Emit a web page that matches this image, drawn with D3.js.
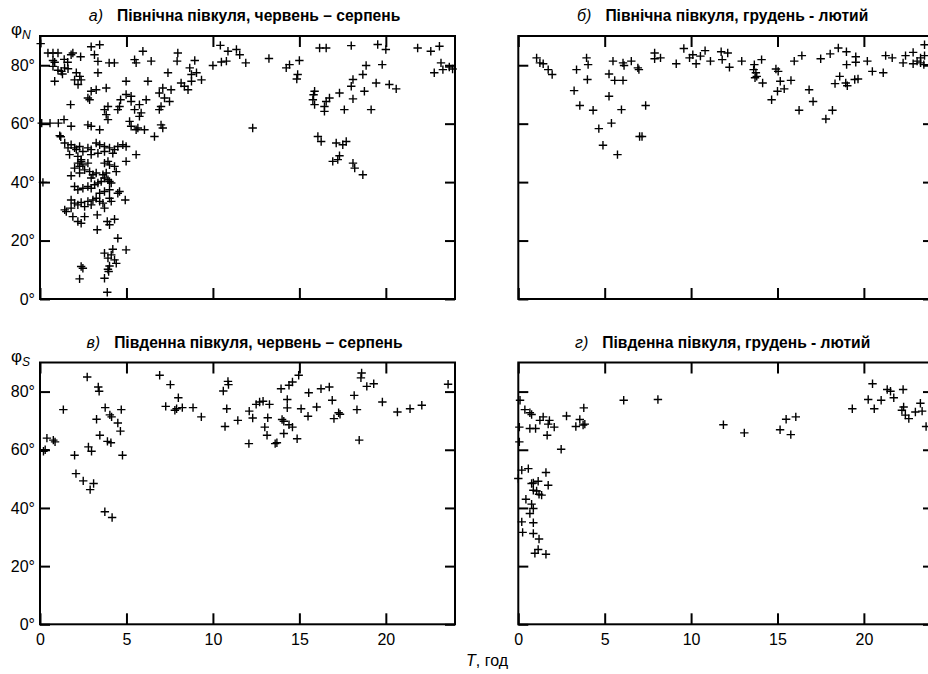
<!DOCTYPE html>
<html>
<head>
<meta charset="utf-8">
<script src="https://cdn.jsdelivr.net/npm/d3@7"></script>
<style>
  body { margin: 0; background: #fff; }
  svg { display: block; font-family: 'Liberation Sans', Arial, sans-serif; }
</style>
</head>
<body>
<svg id="chart" width="928" height="674"></svg>
<script>
// Т (год) та широта φ (градуси) для кожного набору
const northSummer = [
  [0.04,87.4],[0.46,84.2],[0.75,84.2],[1.04,84.2],[0.75,81.6],[0.85,81],[1.4,82],[1.6,81],[1.8,83.6],[1.9,84.2],
  [2.35,82.9],[2.96,86.3],[3.45,87],[3.15,83.6],[3.35,81.3],[4.0,80.8],[4.3,80.8],[0.75,79.6],[1.04,78.3],[1.23,77.9],
  [1.42,79.1],[1.62,78.8],[0.85,74.5],[1.3,77],[2.1,77.4],[2.3,76.2],[2.38,75],[2.0,75],[2.2,73.4],[3.35,77.4],
  [2.96,71.1],[3.25,71.6],[2.77,68.8],[2.87,68.2],[1.77,66.5],[3.83,72.2],[3.73,64.8],[3.93,65.9],[3.83,63.1],[3.93,61.4],
  [4.5,64.8],[4.6,65.9],[4.66,68.2],[4.98,74.5],[5.27,69.4],[5.27,67.6],[4.98,70],[5.18,60.8],[5.27,59.1],[5.47,64.8],
  [5.75,66.5],[5.85,63.7],[5.75,62.5],[6.24,74.5],[6.14,68.2],[5.56,57.9],[5.66,58.5],[6.04,57.9],[6.62,55.6],[5.95,84.8],
  [6.43,81.4],[5.56,80.8],[5.47,81.9],[6.9,70.5],[7.1,72.2],[7.2,68.8],[6.9,64.8],[7.0,65.9],[7.0,59.6],[7.1,58.5],
  [7.4,77.4],[7.58,71.6],[7.49,67.6],[7.97,84.2],[7.93,81.4],[8.16,73.9],[8.35,72.8],
  [0.1,60.2],[0.58,60.2],[1.06,60.2],[1.39,61.4],[1.8,59.1],[2.77,59.6],[2.96,59.1],[3.45,57.9],[1.14,55.9],[1.2,55.5],
  [1.43,53.4],[1.62,51.7],[1.8,52.8],[2.0,51.7],[2.1,51.1],[2.29,52.2],[2.48,50.5],[2.77,51.7],[2.96,51.1],[3.25,53.4],
  [3.45,52.8],[3.73,52.2],[4.02,51.7],[4.31,51.1],[4.5,52.2],[4.79,52.8],[4.98,52.2],[1.71,49.4],[2.19,48.8],[2.38,47.7],
  [2.96,49.4],[3.35,49.9],[3.73,50.5],[4.21,49.9],[5.56,49.4],[3.93,47.1],
  [2.19,46.5],[2.38,47.1],[2.29,45.4],[2.48,45.9],[2.0,44.8],[2.77,46.5],[2.58,44.2],[3.73,46.5],[4.02,45.9],[4.31,45.4],
  [4.98,47.1],[1.8,42.2],[2.29,43.1],[2.87,43.6],[3.06,42.5],[3.25,43.1],[2.96,41.4],[3.64,42.5],[3.73,41.4],[3.93,40.8],
  [3.54,40.2],[3.83,43.1],[4.41,43.6],[4.02,40.2],[4.12,39.7],[0.17,39.9],[2.0,38.5],[2.19,37.4],[2.48,37.9],[2.77,38.5],
  [2.96,37.9],[3.16,39.1],[3.35,39.7],[3.45,36.2],[3.73,36.8],[4.02,37.4],[4.5,36.2],[4.6,36.8],[4.02,34.5],[4.12,33.4],
  [4.93,33.9],[1.8,33.9],[2.0,32.8],[2.19,32.2],[2.38,33.0],[2.58,31.6],[2.77,33.4],[2.96,32.2],[3.06,33.9],[3.25,34.5],
  [3.45,33.4],[3.64,32.8],[3.73,31.1],[1.43,30.5],[1.52,29.9],[1.8,31.1],[1.9,28.2],[2.19,26.5],[2.38,25.9],[2.58,28.2],
  [3.31,28.8],[3.31,23.7],[3.89,26.5],[4.02,25.4],[4.31,27.3],[4.5,20.8],[4.98,16.8],[3.73,15.7],[4.12,15.1],[4.21,17],
  [3.93,14],[4.31,13.4],[4.41,12.2],[4.02,11.3],[3.93,10.2],[3.97,9.4],[3.73,7.1],[2.38,11.1],[2.48,10.5],[2.29,6.9],
  [3.89,2.3],
  [8.95,81.6],[8.66,79.1],[8.76,76.8],[9.05,77.4],[9.34,75],[8.56,71.6],[8.76,74.5],[10.0,79.9],[10.43,86.8],[10.87,84.8],
  [11.36,85.4],[11.55,83.6],[11.9,80.8],[10.49,81.1],[10.78,81.4],[13.24,82.3],[12.3,58.5],[14.24,79.1],[14.43,80.2],[15.0,81.6],
  [14.9,76.8],[14.85,75.3],
  [16.17,85.9],[16.55,85.9],[18.0,86.7],[19.53,87.1],[20.0,85.4],[21.84,85.9],[22.6,84.8],[23.1,86.5],[23.19,80.8],[23.3,78.5],
  [22.8,77.4],[23.67,79.4],[23.86,78.7],[18.86,79.9],[19.79,80.2],[18.1,75.1],[18.67,76.8],[18.0,72.8],[19.44,73.9],[20.2,73.4],
  [20.6,71.9],[18.76,71.1],[18.1,68.5],[17.6,64.8],[19.15,64.8],[17.32,70.5],[16.74,68.8],[16.55,67.6],[16.45,65.9],[16.45,64.2],
  [15.88,71.1],[15.82,69.9],[15.78,68.2],[15.88,66.5],[16.07,55.6],[16.26,53.9],[17.13,53.4],[17.51,52.8],[17.71,53.9],[16.93,47.1],
  [17.22,47.7],[17.32,49],[18.1,46.5],[18.2,44.8],[18.67,42.5]
];

const northWinter = [
  [1.06,82.5],[1.25,80.8],[1.44,80.5],[1.73,78.5],[1.96,76.8],[3.23,71.3],[3.37,78.5],[3.56,66.2],[3.95,82.5],[4.04,80.2],
  [4.0,75.1],[4.33,64.6],[4.66,58.3],[4.9,52.6],[5.25,77],[5.25,69.4],[5.39,60.2],[5.48,81.4],[5.58,74.8],[6.06,74.8],
  [5.74,49.4],[5.97,64.8],[6.06,80.8],[6.12,79.9],[6.54,81.4],[6.92,79.1],[6.98,78.5],[7.02,55.6],[7.16,55.6],[7.37,66.2],
  [7.89,84.2],[7.89,82.2],[8.23,82.5],[9.14,80.5],[9.58,85.7],[9.91,82.5],[10.1,83.6],[10.29,80.5],[10.54,83.1],[10.81,85],
  [11.12,81.4],[11.74,84.6],[12.12,84.2],[11.8,81.9],[12.22,79.3],[12.93,81.4],[13.66,80.2],[13.62,78.5],[13.75,77.4],[13.8,76.2],
  [13.7,75.7],[14.14,73.9],[14.08,81.9],[14.91,78.7],[15.04,77.9],[15.16,74.5],[15.0,71.1],[15.39,71.9],[15.78,74.8],[14.66,68.2],
  [15.97,81.4],[16.41,83.3],[16.25,64.6],[16.83,71.6],[17.06,67.6],[17.5,82.2],[17.8,61.6],[18.05,83.9],[18.18,64.6],[18.33,73.7],
  [18.52,85.9],[18.6,76.2],[18.99,84.6],[19.0,80.2],[18.95,73.9],[19.04,73],[19.53,82.9],[19.53,81],[19.47,75.1],[19.66,75.3],
  [20.2,81.4],[20.49,77.9],[21.12,77.4],[21.26,83.3],[21.64,82.5],[22.27,80.8],[22.41,83.3],[22.85,84.4],[22.85,80.5],[23.08,81.4],
  [23.28,80.8],[23.51,83.3],[23.51,87],[23.28,82.5],[23.47,80.2]
];

const southSummer = [
  [0.2,59.5],[0.3,60],[0.4,64],[0.77,63.3],[0.87,62.7],[1.35,73.8],[2.0,58.1],[2.08,51.8],[2.5,49.3],[2.73,85],
  [2.8,61],[2.98,59.5],[2.9,46.3],[3.1,48.4],[3.27,70.5],[3.37,81.6],[3.42,80.1],[3.46,65],[3.77,74.5],[3.75,38.7],
  [3.9,62.9],[4.1,62.4],[4.04,72],[4.14,71.3],[4.17,36.7],[4.5,69.2],[4.65,66.4],[4.7,73.8],[4.77,58.1],[6.92,85.6],
  [7.27,74.9],[7.54,82.4],[7.8,73.6],[7.9,74.1],[8.0,77.9],[8.23,74.5],[8.85,74.5],[9.33,71.3],[10.6,80.2],[10.7,68],
  [10.8,74.1],[10.87,83.5],[10.9,82.4],[11.44,70.1],[12.08,62.1],[12.1,73.3],[12.3,70.9],[12.5,75.6],[12.7,76.4],[12.9,76.7],
  [13.0,67.8],[13.13,65],[13.17,71],[13.27,75.6],[13.6,62.1],[13.7,62.4],[13.94,81],[14.0,70.4],[14.1,69.8],[14.1,65.6],
  [14.3,77.3],[14.3,74.4],[14.4,82.2],[14.6,83.3],[14.4,68.6],[14.6,67.8],[14.87,63.8],[14.96,85.6],[15.1,74.1],[15.5,71.5],
  [15.54,79.6],[16.0,74.7],[16.25,81],[16.73,81.6],[16.9,77],[17.0,70.7],[17.27,72.7],[17.35,72.2],[18.17,78.7],[18.33,73.8],
  [18.46,63.3],[18.6,86.4],[18.56,84.7],[18.9,81.8],[19.3,82.7],[19.8,76.4],[20.67,73],[21.4,74.1],[22.08,75.3],[23.6,82.5]
];

const southWinter = [
  [0.1,77],[0.38,73.8],[0.67,72.7],[0.77,72.1],[0.06,67.8],[0.67,67.3],[1.0,67.3],[1.25,70.1],[1.44,71.3],[1.67,65],
  [1.8,70.1],[1.73,68.8],[2.08,67.8],[2.48,60.2],[2.79,71.6],[3.33,68],[3.56,70.4],[3.79,74.4],[3.85,68.8],[3.75,68.5],
  [0.06,62.7],[6.1,77],[8.08,77.3],[11.87,68.6],[13.08,65.8],[15.15,66.9],[15.5,70.5],[16.06,71.3],[15.77,65.2],[19.33,74.1],
  [20.25,77.3],[20.5,82.7],[20.6,74.1],[21.0,77],[21.35,80.7],[21.54,80.1],[21.73,77.9],[22.27,80.7],[22.2,73.6],[22.3,74.7],
  [22.4,71.9],[22.6,70.7],[22.98,73],[23.27,76],[23.37,73.3],[23.6,68],
  [0.2,53],[0.58,53.5],[0.0,50.1],[1.6,52.2],[0.77,48.4],[0.87,48.6],[1.15,49.2],[1.73,47.8],[0.87,46.1],[1.06,45.8],
  [1.2,44.7],[1.35,44.4],[0.44,43],[0.77,41.3],[0.87,39.8],[0.67,38.1],[0.2,35.2],[0.87,34.9],[0.25,31.6],[0.87,31.2],
  [1.2,29.3],[1.15,25.7],[0.96,24.4],[1.6,24.1]
];

const xTicks = [0, 5, 10, 15, 20];
const yTicks = [0, 20, 40, 60, 80];

const panels = [
  { letter: 'а)', title: 'Північна півкуля, червень – серпень', data: northSummer, col: 0, row: 0, phi: 'N' },
  { letter: 'б)', title: 'Північна півкуля, грудень - лютий', data: northWinter, col: 1, row: 0 },
  { letter: 'в)', title: 'Південна півкуля, червень – серпень', data: southSummer, col: 0, row: 1, phi: 'S' },
  { letter: 'г)', title: 'Південна півкуля, грудень - лютий', data: southWinter, col: 1, row: 1 }
];

const colX = [[40, 455], [518.3, 933]];
const rowY = [[36, 299], [362.5, 624.3]];

const svg = d3.select('#chart');

function drawPanel(p) {
  const [x0, x1] = colX[p.col];
  const [y0, y1] = rowY[p.row];
  const xScale = d3.scaleLinear().domain([0, 24]).range([x0, x1]);
  const yScale = d3.scaleLinear().domain([0, 90]).range([y1, y0]);
  const g = svg.append('g');

  const bottom = d3.axisBottom(xScale).tickValues(xTicks).tickSizeInner(-11).tickSizeOuter(0).tickPadding(9)
    .tickFormat(p.row === 1 ? d3.format('d') : () => '');
  const top = d3.axisTop(xScale).tickValues(xTicks).tickSizeInner(-11).tickSizeOuter(0).tickFormat(() => '');
  const left = d3.axisLeft(yScale).tickValues(yTicks).tickSizeInner(-10).tickSizeOuter(0).tickPadding(5)
    .tickFormat(p.col === 0 ? (d) => d + '°' : () => '');
  const right = d3.axisRight(yScale).tickValues(yTicks).tickSizeInner(-10).tickSizeOuter(0).tickFormat(() => '');

  const axes = [
    [bottom, `translate(0,${y1})`],
    [top, `translate(0,${y0})`],
    [left, `translate(${x0},0)`],
    [right, `translate(${x1},0)`]
  ];
  axes.forEach(([axis, tr]) => {
    const a = g.append('g').attr('transform', tr).call(axis);
    a.select('.domain').remove();
    a.selectAll('.tick line').attr('stroke', '#000').attr('stroke-width', 2);
    a.selectAll('.tick text')
      .attr('fill', '#000')
      .style('font-size', '16px')
      .style('font-family', "'Liberation Sans', Arial, sans-serif");
  });

  g.append('rect')
    .attr('x', x0).attr('y', y0)
    .attr('width', x1 - x0).attr('height', y1 - y0)
    .attr('fill', 'none').attr('stroke', '#000').attr('stroke-width', 2);

  const s = 4.2;
  g.append('g')
    .selectAll('path')
    .data(p.data)
    .enter()
    .append('path')
    .attr('d', (d) => {
      const cx = xScale(d[0]);
      const cy = yScale(d[1]);
      return `M${cx - s},${cy}H${cx + s}M${cx},${cy - s}V${cy + s}`;
    })
    .attr('stroke', '#000')
    .attr('stroke-width', 1.4)
    .attr('fill', 'none');

  const title = g.append('text')
    .attr('x', (x0 + x1) / 2 - 3)
    .attr('y', y0 - 15)
    .attr('text-anchor', 'middle')
    .style('font-size', '15.6px')
    .attr('fill', '#000');
  title.append('tspan').style('font-style', 'italic').style('font-size', '16px').text(p.letter);
  title.append('tspan').attr('dx', 14).style('font-weight', 'bold').text(p.title);

  if (p.phi) {
    const lab = g.append('text').attr('x', 11).attr('y', y0 - 1).attr('fill', '#000');
    lab.append('tspan').style('font-size', '17px').text('φ');
    lab.append('tspan').attr('dy', 4).style('font-size', '12px').style('font-style', 'italic').text(p.phi);
  }
}

panels.forEach(drawPanel);

const xLabel = svg.append('text')
  .attr('x', 487).attr('y', 666)
  .attr('text-anchor', 'middle')
  .style('font-size', '16px')
  .attr('fill', '#000');
xLabel.append('tspan').style('font-style', 'italic').text('T');
xLabel.append('tspan').text(', год');
</script>
</body>
</html>
